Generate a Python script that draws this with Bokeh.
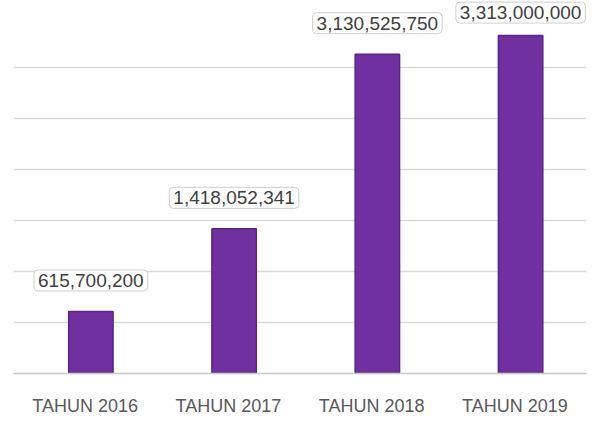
from bokeh.plotting import figure
from bokeh.models import ColumnDataSource, FixedTicker, Range1d, CDSView, IndexFilter
from bokeh.transform import dodge
from bokeh.core.properties import value
from bokeh.embed import file_html
from bokeh.resources import INLINE

categories = ["TAHUN 2016", "TAHUN 2017", "TAHUN 2018", "TAHUN 2019"]
values = [608000000, 1418052341, 3130525750, 3313000000]
value_labels = ["615,700,200", "1,418,052,341", "3,130,525,750", "3,313,000,000"]
grid_values = [0, 500000000, 1000000000, 1500000000, 2000000000, 2500000000, 3000000000]

source = ColumnDataSource(dict(cat=categories, val=values, lab=value_labels))

p = figure(x_range=categories, y_range=Range1d(0, 3.657e9), width=590, height=418,
           output_backend="svg", toolbar_location=None,
           min_border_left=13, min_border_right=4, min_border_top=0, min_border_bottom=0)
p.outline_line_color = None
p.background_fill_color = "white"
p.x_range.range_padding = 0.0

xpos = dodge("cat", 0.04, range=p.x_range)

p.vbar(x=xpos, top="val", width=0.31, source=source,
       fill_color="#7030A0", line_color="#5A2686", line_width=1.5)

common = dict(x=xpos, y="val", text="lab", source=source,
              text_align="center", text_baseline="middle",
              text_font_size="19px", text_color="#404040", text_font=value("Liberation Sans"),
              background_fill_color="white", border_line_color="#CFCFCF",
              border_line_width=1, padding=4, border_radius=4)
p.text(y_offset=-31, view=CDSView(filter=IndexFilter([0, 1, 2])), **common)
p.text(y_offset=-23, view=CDSView(filter=IndexFilter([3])), **common)

p.yaxis.visible = False
p.ygrid.ticker = FixedTicker(ticks=grid_values)
p.ygrid.grid_line_color = "#D9D9D9"
p.ygrid.grid_line_width = 1.5
p.xgrid.grid_line_color = None

p.xaxis.axis_line_color = "#C8C8C8"
p.xaxis.axis_line_width = 1.5
p.xaxis.major_tick_line_color = None
p.xaxis.minor_tick_line_color = None
p.xaxis.major_label_text_font_size = "18px"
p.xaxis.major_label_text_color = "#595959"
p.xaxis.major_label_text_font = "Liberation Sans"
p.xaxis.major_label_standoff = 16

open("out.html", "w").write(file_html(p, INLINE))
